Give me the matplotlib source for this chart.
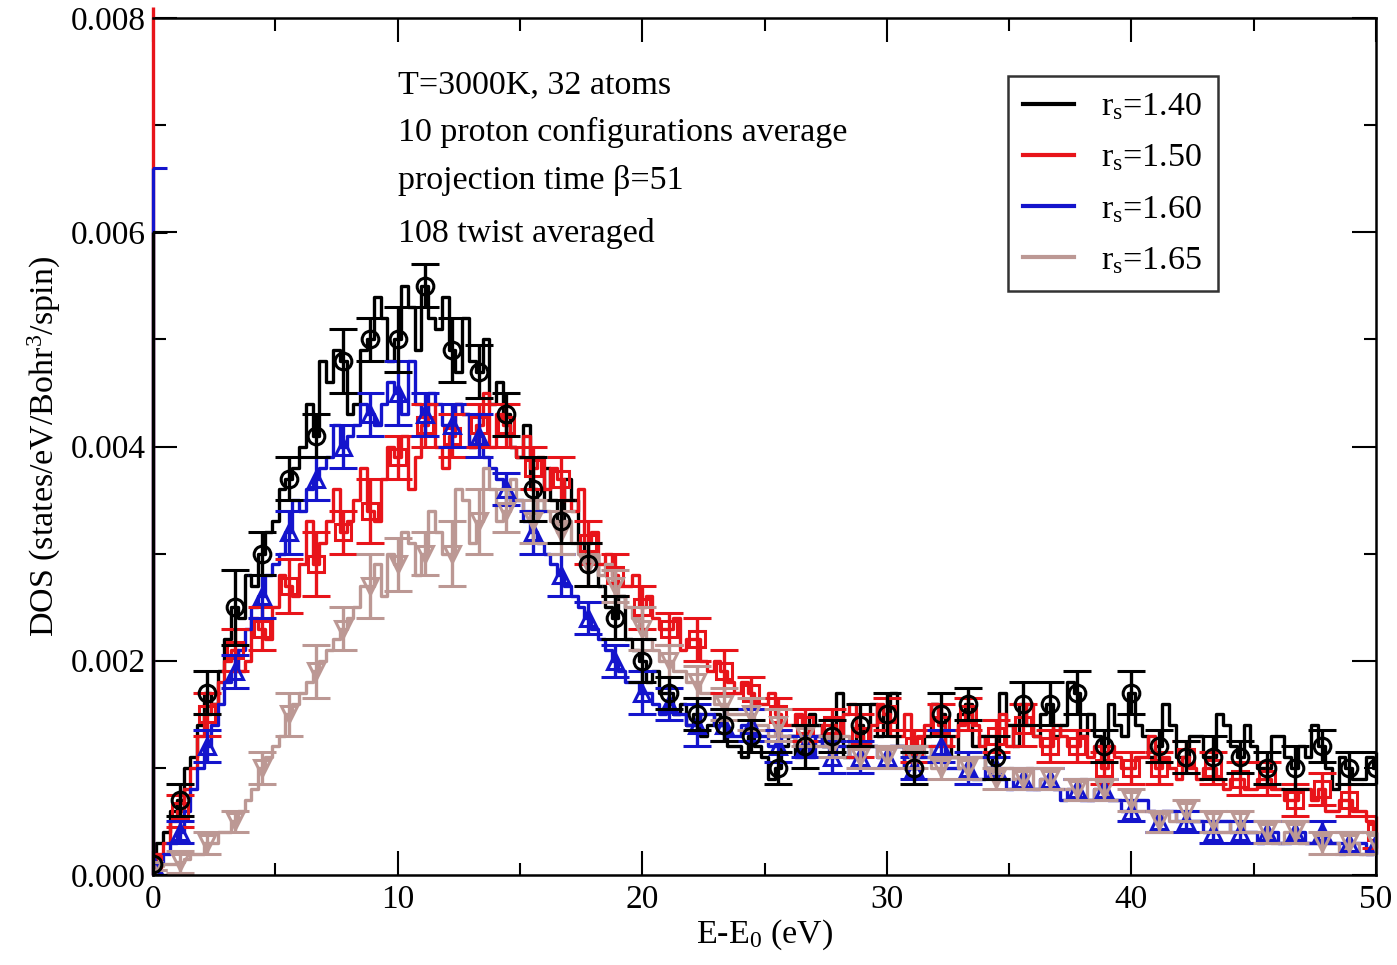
import numpy as np
import matplotlib
matplotlib.use("Agg")
import matplotlib.pyplot as plt

plt.rcParams['font.family'] = ['Liberation Serif', 'DejaVu Serif']
plt.rcParams['mathtext.fontset'] = 'custom'
plt.rcParams['mathtext.rm'] = 'Liberation Serif'
plt.rcParams['mathtext.it'] = 'Liberation Serif:italic'

# Energy grid (eV)
energy = np.linspace(0, 50, 181)

dos_140 = [0.0001, 0.0003, 0.0004, 0.0006, 0.0007, 0.0010, 0.0011, 0.0014, 0.0017, 0.0016,
           0.0019, 0.0022, 0.0025, 0.0024, 0.0028, 0.0027, 0.0030, 0.0032, 0.0033, 0.0036,
           0.0037, 0.0038, 0.0040, 0.0044, 0.0041, 0.0048, 0.0046, 0.0049, 0.0048, 0.0043,
           0.0044, 0.0049, 0.0050, 0.0054, 0.0052, 0.0048, 0.0050, 0.0055, 0.0053, 0.0049,
           0.0055, 0.0052, 0.0051, 0.0054, 0.0049, 0.0047, 0.0052, 0.0048, 0.0047, 0.0050,
           0.0044, 0.0046, 0.0043, 0.0040, 0.0039, 0.0042, 0.0036, 0.0034, 0.0038, 0.0035,
           0.0033, 0.0037, 0.0035, 0.0031, 0.0029, 0.0030, 0.0027, 0.0025, 0.0024, 0.0026,
           0.0022, 0.0021, 0.0020, 0.0018, 0.0019, 0.0017, 0.0017, 0.0015, 0.0016, 0.0014,
           0.0015, 0.0013, 0.0014, 0.0015, 0.0014, 0.0012, 0.0012, 0.0011, 0.0013, 0.0012,
           0.0011, 0.0009, 0.0010, 0.0012, 0.0013, 0.0011, 0.0012, 0.0015, 0.0014, 0.0012,
           0.0013, 0.0017, 0.0011, 0.0012, 0.0014, 0.0012, 0.0016, 0.0013, 0.0015, 0.0017,
           0.0012, 0.0010, 0.0010, 0.0012, 0.0013, 0.0016, 0.0015, 0.0012, 0.0011, 0.0015,
           0.0016, 0.0012, 0.0013, 0.0010, 0.0011, 0.0017, 0.0014, 0.0012, 0.0016, 0.0014,
           0.0013, 0.0015, 0.0016, 0.0013, 0.0014, 0.0018, 0.0017, 0.0013, 0.0015, 0.0013,
           0.0012, 0.0016, 0.0014, 0.0013, 0.0017, 0.0014, 0.0013, 0.0011, 0.0012, 0.0016,
           0.0014, 0.0011, 0.0011, 0.0013, 0.0013, 0.0011, 0.0011, 0.0015, 0.0014, 0.0012,
           0.0011, 0.0014, 0.0012, 0.0010, 0.0010, 0.0013, 0.0013, 0.0011, 0.0010, 0.0012,
           0.0011, 0.0014, 0.0012, 0.0010, 0.0008, 0.0011, 0.0010, 0.0009, 0.0009, 0.0011,
           0.0010]

dos_150 = [0.0001, 0.0002, 0.0003, 0.0005, 0.0006, 0.0008, 0.0010, 0.0013, 0.0015, 0.0016,
           0.0018, 0.0020, 0.0021, 0.0019, 0.0020, 0.0024, 0.0023, 0.0022, 0.0025, 0.0028,
           0.0027, 0.0026, 0.0029, 0.0033, 0.0029, 0.0031, 0.0033, 0.0036, 0.0032, 0.0033,
           0.0035, 0.0038, 0.0034, 0.0033, 0.0037, 0.0040, 0.0039, 0.0041, 0.0036, 0.0039,
           0.0042, 0.0044, 0.0040, 0.0038, 0.0041, 0.0044, 0.0043, 0.0040, 0.0042, 0.0045,
           0.0040, 0.0043, 0.0042, 0.0040, 0.0039, 0.0041, 0.0038, 0.0039, 0.0036, 0.0038,
           0.0037, 0.0035, 0.0034, 0.0036, 0.0031, 0.0032, 0.0029, 0.0030, 0.0028, 0.0027,
           0.0027, 0.0028, 0.0025, 0.0026, 0.0024, 0.0023, 0.0023, 0.0024, 0.0021, 0.0022,
           0.0022, 0.0020, 0.0019, 0.0020, 0.0019, 0.0018, 0.0017, 0.0018, 0.0017, 0.0016,
           0.0016, 0.0017, 0.0015, 0.0014, 0.0014, 0.0015, 0.0014, 0.0012, 0.0013, 0.0014,
           0.0014, 0.0013, 0.0015, 0.0016, 0.0013, 0.0012, 0.0014, 0.0016, 0.0015, 0.0013,
           0.0013, 0.0015, 0.0012, 0.0013, 0.0014, 0.0016, 0.0014, 0.0012, 0.0013, 0.0014,
           0.0015, 0.0014, 0.0012, 0.0013, 0.0013, 0.0015, 0.0012, 0.0014, 0.0014, 0.0016,
           0.0013, 0.0012, 0.0012, 0.0014, 0.0013, 0.0012, 0.0012, 0.0013, 0.0011, 0.0012,
           0.0010, 0.0012, 0.0011, 0.0010, 0.0010, 0.0011, 0.0011, 0.0013, 0.0010, 0.0011,
           0.0010, 0.0009, 0.0011, 0.0010, 0.0009, 0.0010, 0.0010, 0.0009, 0.0008, 0.0009,
           0.0009, 0.0008, 0.0008, 0.0009, 0.0009, 0.0008, 0.0008, 0.0007, 0.0007, 0.0008,
           0.0008, 0.0007, 0.0008, 0.0006, 0.0006, 0.0007, 0.0007, 0.0006, 0.0006, 0.0005,
           0.0004]

dos_160 = [0.0001, 0.0001, 0.0002, 0.0003, 0.0004, 0.0006, 0.0008, 0.0010, 0.0012, 0.0014,
           0.0016, 0.0018, 0.0019, 0.0021, 0.0023, 0.0025, 0.0026, 0.0028, 0.0029, 0.0030,
           0.0032, 0.0035, 0.0034, 0.0036, 0.0037, 0.0038, 0.0039, 0.0042, 0.0040, 0.0041,
           0.0042, 0.0044, 0.0043, 0.0042, 0.0044, 0.0046, 0.0045, 0.0043, 0.0048, 0.0044,
           0.0043, 0.0045, 0.0044, 0.0042, 0.0042, 0.0044, 0.0043, 0.0040, 0.0041, 0.0039,
           0.0038, 0.0037, 0.0036, 0.0035, 0.0035, 0.0033, 0.0032, 0.0031, 0.0030, 0.0029,
           0.0028, 0.0027, 0.0026, 0.0025, 0.0024, 0.0023, 0.0022, 0.0021, 0.0020, 0.0019,
           0.0018, 0.0018, 0.0017, 0.0017, 0.0016, 0.0015, 0.0016, 0.0015, 0.0015, 0.0014,
           0.0014, 0.0015, 0.0015, 0.0014, 0.0014, 0.0013, 0.0013, 0.0014, 0.0014, 0.0013,
           0.0013, 0.0012, 0.0012, 0.0013, 0.0013, 0.0012, 0.0012, 0.0011, 0.0013, 0.0012,
           0.0011, 0.0012, 0.0012, 0.0011, 0.0011, 0.0012, 0.0012, 0.0011, 0.0011, 0.0012,
           0.0012, 0.0010, 0.0010, 0.0011, 0.0011, 0.0012, 0.0012, 0.0010, 0.0010, 0.0010,
           0.0010, 0.0009, 0.0009, 0.0010, 0.0010, 0.0009, 0.0008, 0.0009, 0.0009, 0.0008,
           0.0008, 0.0009, 0.0009, 0.0008, 0.0007, 0.0008, 0.0008, 0.0007, 0.0007, 0.0008,
           0.0008, 0.0007, 0.0007, 0.0006, 0.0006, 0.0007, 0.0007, 0.0006, 0.0005, 0.0006,
           0.0006, 0.0005, 0.0005, 0.0005, 0.0005, 0.0004, 0.0004, 0.0005, 0.0005, 0.0004,
           0.0004, 0.0004, 0.0004, 0.0003, 0.0004, 0.0004, 0.0003, 0.0003, 0.0004, 0.0004,
           0.0003, 0.0003, 0.0004, 0.0003, 0.0003, 0.0003, 0.0003, 0.0003, 0.0003, 0.0002,
           0.0003]

dos_165 = [0.00005, 0.00008, 0.0001, 0.0001, 0.00012, 0.00015, 0.0002, 0.0002, 0.0003, 0.0003,
           0.0004, 0.0004, 0.0005, 0.0006, 0.0007, 0.0008, 0.0010, 0.0011, 0.0012, 0.0013,
           0.0015, 0.0016, 0.0017, 0.0018, 0.0019, 0.0020, 0.0021, 0.0022, 0.0023, 0.0024,
           0.0025, 0.0027, 0.0027, 0.0029, 0.0026, 0.0030, 0.0029, 0.0032, 0.0031, 0.0028,
           0.0030, 0.0034, 0.0032, 0.0030, 0.0030, 0.0036, 0.0035, 0.0031, 0.0033, 0.0038,
           0.0036, 0.0033, 0.0034, 0.0037, 0.0035, 0.0034, 0.0033, 0.0035, 0.0034, 0.0033,
           0.0032, 0.0033, 0.0031, 0.0030, 0.0029, 0.0030, 0.0028, 0.0029, 0.0027, 0.0026,
           0.0025, 0.0024, 0.0023, 0.0022, 0.0021, 0.0020, 0.0020, 0.0019, 0.0019, 0.0018,
           0.0018, 0.0017, 0.0017, 0.0016, 0.0016, 0.0015, 0.0015, 0.0015, 0.0015, 0.0014,
           0.0014, 0.0013, 0.0014, 0.0013, 0.0013, 0.0012, 0.0013, 0.0012, 0.0012, 0.0012,
           0.0012, 0.0013, 0.0013, 0.0011, 0.0011, 0.0012, 0.0012, 0.0011, 0.0011, 0.0012,
           0.0012, 0.0011, 0.0011, 0.0011, 0.0012, 0.0010, 0.0010, 0.0011, 0.0011, 0.0010,
           0.0010, 0.0011, 0.0011, 0.0010, 0.0009, 0.0010, 0.0010, 0.0009, 0.0009, 0.0010,
           0.0008, 0.0009, 0.0009, 0.0008, 0.0008, 0.0008, 0.0008, 0.0009, 0.0007, 0.0008,
           0.0008, 0.0007, 0.0007, 0.0007, 0.0007, 0.0006, 0.0006, 0.0006, 0.0005, 0.0006,
           0.0005, 0.0006, 0.0006, 0.0005, 0.0005, 0.0005, 0.0005, 0.0004, 0.0004, 0.0005,
           0.0005, 0.0004, 0.0004, 0.0004, 0.0004, 0.0003, 0.0003, 0.0004, 0.0004, 0.0003,
           0.0003, 0.0003, 0.0003, 0.0003, 0.0003, 0.0002, 0.0003, 0.0003, 0.0002, 0.0002,
           0.0003]

# error bars at every fourth energy point
err_140 = [0.0059, 0.00015, 0.0002, 0.00035, 0.0002, 0.0002, 0.0002, 0.0003, 0.0002, 0.0003,
           0.0002, 0.0003, 0.00025, 0.0002, 0.0003, 0.0002, 0.0002, 0.0002, 0.0002, 0.00015,
           0.00015, 0.00015, 0.00015, 0.00015, 0.0002, 0.00015, 0.0002, 0.0002, 0.00015, 0.0002,
           0.00015, 0.0002, 0.0002, 0.0002, 0.0002, 0.00015, 0.0002, 0.00015, 0.00015, 0.0002,
           0.00015, 0.00015, 0.0002, 0.00015, 0.00015, 0.00015]
err_150 = [0.0080, 0.00015, 0.0002, 0.0002, 0.0002, 0.00025, 0.0003, 0.0002, 0.0003, 0.0002,
           0.0002, 0.0002, 0.0002, 0.0002, 0.0002, 0.0002, 0.0002, 0.0002, 0.0002, 0.00015,
           0.0002, 0.0002, 0.00015, 0.00015, 0.00015, 0.00015, 0.0002, 0.00015, 0.00015, 0.0002,
           0.00015, 0.00015, 0.0002, 0.00015, 0.00015, 0.00015, 0.00015, 0.00015, 0.00015, 0.00015,
           0.00015, 0.00015, 0.00015, 0.00015, 0.00015, 0.00015]
err_160 = [0.0065, 0.0001, 0.00015, 0.00015, 0.0002, 0.0002, 0.0002, 0.0002, 0.0002, 0.0003,
           0.0002, 0.0002, 0.0002, 0.00015, 0.0002, 0.0002, 0.00015, 0.00015, 0.0002, 0.00015,
           0.0002, 0.00015, 0.00015, 0.00015, 0.0001, 0.00015, 0.00015, 0.0001, 0.0001, 0.00015,
           0.00015, 0.0001, 0.0001, 0.0001, 0.0001, 0.0001, 0.0001, 0.0001, 0.0001, 0.0001,
           0.0001, 0.0001, 0.0001, 0.0001, 0.0001, 0.0001]
err_165 = [0.0, 0.0001, 0.0001, 0.0001, 0.00015, 0.0002, 0.00025, 0.0002, 0.0003, 0.00025,
           0.0002, 0.0003, 0.0003, 0.0002, 0.0002, 0.0002, 0.0002, 0.00015, 0.0002, 0.00015,
           0.00015, 0.00015, 0.00015, 0.00015, 0.0001, 0.0001, 0.0001, 0.0001, 0.0001, 0.0001,
           0.0001, 0.0001, 0.0001, 0.0001, 0.0001, 0.0001, 0.0001, 0.0001, 0.0001, 0.0001,
           0.0001, 0.0001, 0.0001, 0.0001, 0.0001, 0.0001]

labels = [r'r$_\mathrm{s}$=1.40', r'r$_\mathrm{s}$=1.50', r'r$_\mathrm{s}$=1.60', r'r$_\mathrm{s}$=1.65']
series = [dos_140, dos_150, dos_160, dos_165]
errors = [err_140, err_150, err_160, err_165]
colors = ['#000000', '#e8141a', '#1414cc', '#bc9894']
markers = ['o', 's', '^', 'v']
eb_z = [2.4, 2.2, 2.3, 2.35]

fig = plt.figure(figsize=(13.97, 9.65), dpi=100)
ax = fig.add_axes([0.1095, 0.0933, 0.8755, 0.888])

for y, e, c, m, lab, z in zip(series, errors, colors, markers, labels, eb_z):
    y = np.asarray(y)
    e = np.asarray(e)
    ax.plot(energy, y, color=c, lw=2.4, drawstyle='steps-mid', label=lab, zorder=2)
    ys = y[::4]
    eb = ax.errorbar(energy[::4], ys, yerr=[np.minimum(e, ys), e], fmt=m, color=c,
                     mfc='none', mec=c, ms=12, mew=2.2, ecolor=c, elinewidth=2.4,
                     capsize=10, capthick=2.2, zorder=z)
    for art in eb.lines[2]:
        art.set_clip_on(False)
        art.set_zorder(z)
    for art in eb.lines[1]:
        art.set_zorder(z)
    eb.lines[0].set_zorder(z)

ax.set_xlim(0, 50)
ax.set_ylim(0, 0.008)
ax.set_xticks([0, 10, 20, 30, 40, 50])
ax.set_xticks([5, 15, 25, 35, 45], minor=True)
ax.set_yticks([0, 0.002, 0.004, 0.006, 0.008])
ax.set_yticklabels(['0.000', '0.002', '0.004', '0.006', '0.008'])
ax.set_yticks([0.001, 0.003, 0.005, 0.007], minor=True)
ax.tick_params(which='both', direction='in', top=True, right=True, labelsize=24, width=1.5)
ax.tick_params(which='major', length=17)
ax.tick_params(which='minor', length=9)
ax.tick_params(axis='y', which='major', pad=5)
ax.tick_params(axis='x', which='major', pad=7)
for s in ax.spines.values():
    s.set_linewidth(1.8)
    s.set_zorder(3)
ax.spines['left'].set_zorder(1.5)

ax.set_xlabel(r'E-E$_0$ (eV)', fontsize=24.5, labelpad=2)
ax.set_ylabel(r'DOS (states/eV/Bohr$^3$/spin)', fontsize=24.5, labelpad=6)

txt = ['T=3000K, 32 atoms', '10 proton configurations average',
       'projection time \u03b2=51', '108 twist averaged']
ypos = [0.922, 0.866, 0.811, 0.749]
for t, yy in zip(txt, ypos):
    ax.text(0.200, yy, t, transform=ax.transAxes, fontsize=24.5, va='center', ha='left')

leg = ax.legend(loc='upper left', bbox_to_anchor=(0.699, 0.932), borderaxespad=0,
                fontsize=24.5, frameon=True, fancybox=False, edgecolor='black',
                handlelength=1.5, labelspacing=0.6, borderpad=0.45, handletextpad=0.8)
leg.get_frame().set_linewidth(1.8)
for h in leg.legend_handles:
    h.set_linewidth(3)

fig.savefig('out.png', dpi=100)
